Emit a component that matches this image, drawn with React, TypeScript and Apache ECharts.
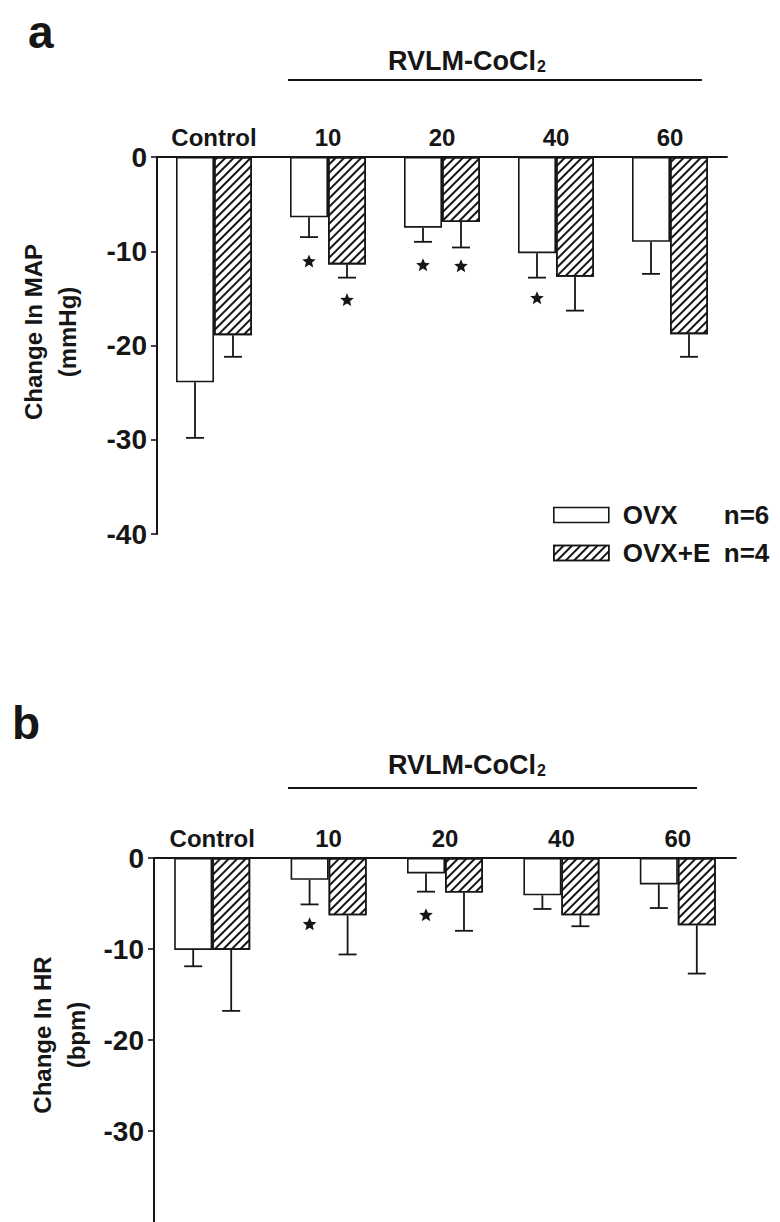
import React, { useEffect, useRef } from "react";
import * as echarts from "echarts";

// ---------- data ----------
const categories = ["Control", "10", "20", "40", "60"];
const groupLabel = "RVLM-CoCl";
const groupLabelSub = "2";

// panel a: change in MAP (mmHg)
const mapOVX = [-23.9, -6.4, -7.5, -10.2, -9.0];
const mapOVXSem = [5.9, 2.1, 1.5, 2.6, 3.4];
const mapOVXE = [-18.9, -11.4, -6.9, -12.7, -18.8];
const mapOVXESem = [2.3, 1.4, 2.7, 3.6, 2.4];
const mapOVXStar = [null, -11.1, -11.5, -15.0, null];
const mapOVXEStar = [null, -15.2, -11.6, null, null];

// panel b: change in HR (bpm)
const hrOVX = [-10.1, -2.4, -1.7, -4.1, -2.9];
const hrOVXSem = [1.8, 2.7, 2.0, 1.5, 2.6];
const hrOVXE = [-10.1, -6.3, -3.8, -6.3, -7.4];
const hrOVXESem = [6.7, 4.3, 4.2, 1.2, 5.3];
const hrOVXStar = [null, -7.3, -6.3, null, null];
const hrOVXEStar = [null, null, null, null, null];

const yMin = -40;
const yMax = 0;
const yStep = 10;

const legendNames = ["OVX", "OVX+E"];
const legendN = ["n=6", "n=4"];

// ---------- style ----------
const FONT = '"Liberation Sans", Arial, Helvetica, sans-serif';
const INK = "#161616";
const BAR_W = 38;

const HATCH = {
  symbol: "rect",
  symbolSize: 1,
  color: INK,
  dashArrayX: [1, 0],
  dashArrayY: [1.3, 3.2],
  rotation: -Math.PI / 4,
};

function barSeries(name: string, idx: number, data: number[], hatched: boolean) {
  return {
    type: "bar",
    name,
    xAxisIndex: idx,
    yAxisIndex: idx,
    data,
    barWidth: BAR_W,
    barGap: "0%",
    itemStyle: {
      color: "#ffffff",
      borderColor: INK,
      borderWidth: 1.6,
      ...(hatched ? { decal: HATCH } : {}),
    },
  };
}

function errSeries(idx: number, mean: number[], sem: number[], side: number) {
  return {
    type: "custom",
    xAxisIndex: idx,
    yAxisIndex: idx,
    silent: true,
    z: 3,
    encode: { x: 0, y: 1 },
    data: mean.map((m, i) => [i, m, m - sem[i], side]),
    renderItem: (_p: any, api: any) => {
      const c = api.value(0);
      const v = api.value(1);
      const e = api.value(2);
      const s = api.value(3);
      const p0 = api.coord([c, v]);
      const p1 = api.coord([c, e]);
      const x = p0[0] + (s * BAR_W) / 2;
      const st = { stroke: INK, lineWidth: 1.8 };
      return {
        type: "group",
        children: [
          { type: "line", shape: { x1: x, y1: p0[1], x2: x, y2: p1[1] }, style: st },
          { type: "line", shape: { x1: x - 9, y1: p1[1], x2: x + 9, y2: p1[1] }, style: st },
        ],
      };
    },
  };
}

function starSeries(idx: number, stars: (number | null)[], side: number) {
  const data: number[][] = [];
  stars.forEach((v, i) => {
    if (v !== null) data.push([i, v, side]);
  });
  return {
    type: "custom",
    xAxisIndex: idx,
    yAxisIndex: idx,
    silent: true,
    z: 4,
    encode: { x: 0, y: 1 },
    data,
    renderItem: (_p: any, api: any) => {
      const c = api.value(0);
      const v = api.value(1);
      const s = api.value(2);
      const p = api.coord([c, v]);
      const cx = p[0] + (s * BAR_W) / 2;
      const cy = p[1];
      const pts: number[][] = [];
      for (let k = 0; k < 10; k++) {
        const r = k % 2 === 0 ? 7.2 : 3.2;
        const a = -Math.PI / 2 + (k * Math.PI) / 5;
        pts.push([cx + r * Math.cos(a), cy + r * Math.sin(a)]);
      }
      return { type: "polygon", shape: { points: pts }, style: { fill: INK } };
    },
  };
}

function xAxisCfg(idx: number) {
  return {
    type: "category",
    gridIndex: idx,
    data: categories,
    position: "top",
    axisLine: { show: true, onZero: false, lineStyle: { color: INK, width: 1.8 } },
    axisTick: { show: false },
    axisLabel: { color: INK, fontFamily: FONT, fontWeight: "bold", fontSize: 24, margin: 8 },
    splitLine: { show: false },
  };
}

function yAxisCfg(idx: number, showMin: boolean) {
  return {
    type: "value",
    gridIndex: idx,
    min: yMin,
    max: yMax,
    interval: yStep,
    axisLine: { show: true, lineStyle: { color: INK, width: 2 } },
    axisTick: { show: true, length: 6, lineStyle: { color: INK, width: 1.6 } },
    axisLabel: {
      color: INK,
      fontFamily: FONT,
      fontWeight: "bold",
      fontSize: 28,
      margin: 10,
      showMinLabel: showMin,
    },
    splitLine: { show: false },
  };
}

function groupHeader(lineY: number, x1: number, x2: number, textX: number, textY: number) {
  return [
    {
      type: "line",
      shape: { x1, y1: lineY, x2, y2: lineY },
      style: { stroke: INK, lineWidth: 2 },
    },
    {
      type: "text",
      x: textX,
      y: textY,
      style: {
        text: `{m|${groupLabel}}{s|${groupLabelSub}}`,
        align: "left",
        verticalAlign: "middle",
        fill: INK,
        rich: {
          m: { fontFamily: FONT, fontWeight: "bold", fontSize: 27, fill: INK },
          s: { fontFamily: FONT, fontWeight: "bold", fontSize: 16, fill: INK, verticalAlign: "bottom", padding: [0, 0, 0, 1] },
        },
      },
    },
  ];
}

function yTitle(x: number, y: number, text: string) {
  return {
    type: "text",
    x,
    y,
    rotation: Math.PI / 2,
    style: {
      text,
      align: "center",
      verticalAlign: "middle",
      fontFamily: FONT,
      fontWeight: "bold",
      fontSize: 24,
      lineHeight: 34,
      fill: INK,
    },
  };
}

export default function App() {
  const ref = useRef<HTMLDivElement>(null);

  useEffect(() => {
    document.body.style.margin = "0";
    const chart = echarts.init(ref.current!, undefined, { renderer: "svg" });
    const option: any = {
      animation: false,
      backgroundColor: "#ffffff",
      grid: [
        { left: 157, top: 157, width: 570, height: 377 },
        { left: 154, top: 858, width: 582, height: 385 },
      ],
      xAxis: [xAxisCfg(0), xAxisCfg(1)],
      yAxis: [yAxisCfg(0, true), yAxisCfg(1, false)],
      legend: {
        data: legendNames,
        orient: "vertical",
        left: 548,
        top: 497,
        itemWidth: 55,
        itemHeight: 15,
        itemGap: 12,
        icon: "rect",
        selectedMode: false,
        itemStyle: { borderColor: INK, borderWidth: 1.6 },
        formatter: (name: string) => {
          const i = legendNames.indexOf(name);
          return `{n|${name}}{c|${legendN[i]}}`;
        },
        textStyle: {
          color: INK,
          rich: {
            n: { width: 101, padding: [0, 0, 0, 9], fontFamily: FONT, fontWeight: "bold", fontSize: 26, color: INK },
            c: { fontFamily: FONT, fontWeight: "bold", fontSize: 26, color: INK },
          },
        },
      },
      graphic: [
        {
          type: "text",
          x: 28,
          y: 32,
          style: { text: "a", fontFamily: FONT, fontWeight: "bold", fontSize: 46, fill: INK, verticalAlign: "middle" },
        },
        {
          type: "text",
          x: 12,
          y: 723,
          style: { text: "b", fontFamily: FONT, fontWeight: "bold", fontSize: 46, fill: INK, verticalAlign: "middle" },
        },
        ...groupHeader(80, 288, 702, 388, 61),
        ...groupHeader(788, 288, 697, 388, 765),
        yTitle(50, 332, "Change In MAP\n(mmHg)"),
        yTitle(59, 1035, "Change In HR\n(bpm)"),
      ],
      series: [
        barSeries("OVX", 0, mapOVX, false),
        barSeries("OVX+E", 0, mapOVXE, true),
        errSeries(0, mapOVX, mapOVXSem, -1),
        errSeries(0, mapOVXE, mapOVXESem, 1),
        starSeries(0, mapOVXStar, -1),
        starSeries(0, mapOVXEStar, 1),
        barSeries("OVX", 1, hrOVX, false),
        barSeries("OVX+E", 1, hrOVXE, true),
        errSeries(1, hrOVX, hrOVXSem, -1),
        errSeries(1, hrOVXE, hrOVXESem, 1),
        starSeries(1, hrOVXStar, -1),
        starSeries(1, hrOVXEStar, 1),
      ],
    };
    chart.setOption(option);
    return () => chart.dispose();
  }, []);

  return (
    <div
      ref={ref}
      style={{ position: "absolute", left: 0, top: 0, width: 780, height: 1222, background: "#fff" }}
    />
  );
}
